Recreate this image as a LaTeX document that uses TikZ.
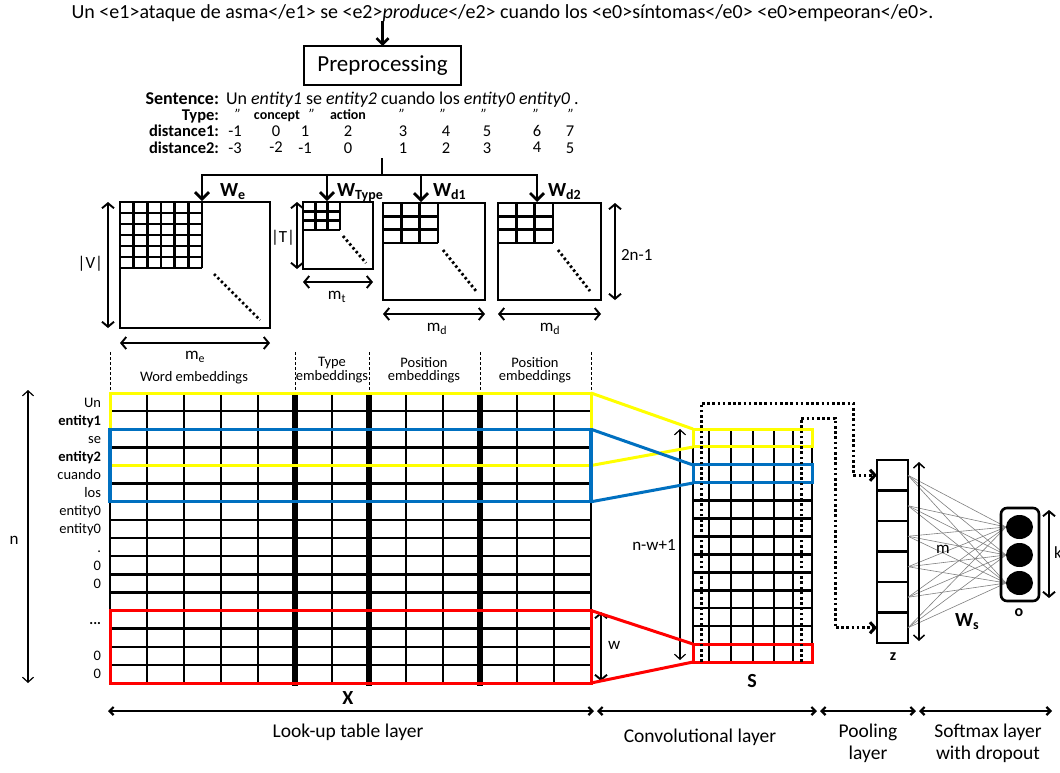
\documentclass[tikz,border=0pt]{standalone}
\usepackage{fontspec}
\setmainfont{Carlito}
\usetikzlibrary{arrows.meta,shapes.geometric}
\newcommand{\myfs}[1]{\fontsize{#1}{#1}\selectfont}
\definecolor{ylw}{RGB}{255,255,0}
\definecolor{blu}{RGB}{0,112,192}
\definecolor{rd}{RGB}{255,0,0}
\begin{document}
\begin{tikzpicture}[x=1pt,y=-1pt,
  every node/.style={inner sep=0pt, outer sep=0pt},
  mat/.style={draw, line width=2.6pt, inner sep=0pt, outer sep=0pt, anchor=north west},
  gridl/.style={line width=2.5pt},
  thickl/.style={line width=6.5pt},
  diag/.style={line width=2.8pt, dash pattern=on 2.4pt off 2.6pt},
  dimarr/.style={line width=1.9pt, {Straight Barb[length=5pt,width=12pt]}-{Straight Barb[length=5pt,width=12pt]}},
  thinarr/.style={line width=1.2pt, {Straight Barb[length=5pt,width=11pt]}-{Straight Barb[length=5pt,width=11pt]}},
  treearr/.style={line width=2.8pt, -{Straight Barb[length=7pt,width=14pt]}},
  axarr/.style={line width=2.2pt, {Straight Barb[length=4pt,width=8pt]}-{Straight Barb[length=4pt,width=8pt]}},
  dotp/.style={line width=3pt, dash pattern=on 2.6pt off 2.6pt, -{Straight Barb[length=5pt,width=11pt]}},
  sepl/.style={line width=0.9pt, dash pattern=on 3pt off 2pt},
  zcell/.style={draw, line width=2.6pt, minimum width=31pt, minimum height=30.5pt},
  lbl/.style={font=\myfs{17}},
  rowl/.style={anchor=base east, font=\myfs{14.5}},
  tlab/.style={anchor=base east, font=\myfs{16.5}\bfseries},
  tval/.style={anchor=base, font=\myfs{16.5}},
  ttyp/.style={anchor=base, font=\myfs{14}\bfseries},
  wlab/.style={anchor=base west, font=\myfs{20}\bfseries},
  emb/.style={font=\myfs{14.5}, align=center},
  axl/.style={font=\fontsize{19.5}{22}\selectfont, align=center, anchor=north}
]
\fill[white] (0,0) rectangle (1060,772);
\useasboundingbox (0,0) rectangle (1060,772);

% ---------- top sentence and preprocessing ----------
\node[anchor=base, font=\myfs{20}] (src) at (502.5,18) {Un <e1>ataque de asma</e1> se <e2>\textit{produce}</e2> cuando los <e0>síntomas</e0> <e0>empeoran</e0>.};
\node[draw, line width=1.2pt, minimum width=157pt, minimum height=39pt, font=\myfs{23}] (prep) at (382.5,65.5) {Preprocessing};
\draw[line width=2.6pt, -{Straight Barb[length=6pt,width=12pt]}] (prep.north |- src.south) -- (prep.north);

% ---------- table ----------
\node[tlab, font=\myfs{18}\bfseries] (lsent) at (219,104) {Sentence:};
\node[anchor=base west, font=\myfs{18}] (sent) at (226,104) {Un \textit{entity1} se \textit{entity2} cuando los \textit{entity0} \textit{entity0} .};
\node[tlab] (ltype) at (219,120) {Type:};
\node[tlab] (ld1) at (219,136) {distance1:};
\node[tlab] (ld2) at (219,153) {distance2:};
\foreach \x [count=\k] in {238,312,402,443,484,536,571}
  \node[anchor=north, font=\myfs{15}\itshape] (q\k) at (\x,109) {”};
\node[ttyp] (tconc) at (277,119) {concept};
\node[ttyp] (tact) at (348,119) {action};
\foreach \x/\v [count=\k] in {235/-1,276/0,305/1,348/2,403/3,446/4,487/5,537/6,570/7}
  \node[tval] (da\k) at (\x,136) {\v};
\foreach \x/\v/\dy [count=\k] in {235/-3/0,276/-2/-1,305/-1/0,348/0/0,403/1/0,446/2/0,487/3/0,537/4/-1,570/5/0}
  \node[tval] (db\k) at (\x,153+\dy) {\v};

% ---------- tree ----------
\coordinate (stem) at (382,158);
\coordinate (fork) at (382,175);
\coordinate (inWe) at (202,201);
\coordinate (inWt) at (327,201);
\coordinate (inWd1) at (421,202);
\coordinate (inWd2) at (537,202);
\draw[line width=2.8pt] (stem) -- (fork);
\draw[treearr] (fork) -| (inWe);
\draw[treearr] (fork) -| (inWt);
\draw[treearr] (fork) -| (inWd1);
\draw[treearr] (fork) -| (inWd2);

% ---------- embedding matrices ----------
\node[mat, minimum width=150pt, minimum height=126pt] (We) at (120,202) {};
\foreach \i in {1,...,6} {
  \draw[gridl] ({120+\i*82/6},202) -- ({120+\i*82/6},268);
  \draw[gridl] (120,{202+\i*11}) -- (202,{202+\i*11});
}
\draw[diag] (214,274) -- (260,320);
\node[mat, minimum width=70pt, minimum height=67pt] (Wt) at (303,202) {};
\foreach \i in {1,2,3} {
  \draw[gridl] ({303+\i*37/3},202) -- ({303+\i*37/3},230);
  \draw[gridl] (303,{202+\i*28/3}) -- (340,{202+\i*28/3});
}
\draw[diag] (343,236) -- (366,263);
\node[mat, minimum width=102pt, minimum height=97pt] (Wd1) at (383,203) {};
\node[mat, minimum width=103pt, minimum height=97pt] (Wd2) at (498,203) {};
\foreach \ox in {383,498} {
  \foreach \i in {1,2,3} {
    \draw[gridl] ({\ox+\i*55/3},203) -- ({\ox+\i*55/3},243);
    \draw[gridl] (\ox,{203+\i*40/3}) -- ({\ox+55},{203+\i*40/3});
  }
}
\draw[diag] (443,250) -- (476,291);
\draw[diag] (558,250) -- (590,291);

\node[wlab] (lWe) at (220,196) {W\textsubscript{e}};
\node[wlab] (lWt) at (337,196) {W\textsubscript{Type}};
\node[wlab] (lWd1) at (433,196) {W\textsubscript{d1}};
\node[wlab] (lWd2) at (548,196) {W\textsubscript{d2}};

\draw[dimarr] (108,202) -- (108,328);
\node[lbl, anchor=east] (lV) at (103,264) {|V|};
\draw[dimarr] (120,343) -- (270,343);
\node[lbl] (lme) at (195,357) {m\textsubscript{e}};
\draw[dimarr] (297,202) -- (297,269);
\node[lbl] (lT) at (283,238) {|T|};
\draw[dimarr] (303,282) -- (373,282);
\node[lbl] (lmt) at (337,297) {m\textsubscript{t}};
\draw[dimarr] (383,314) -- (485,314);
\node[lbl] (lmd1) at (437,329) {m\textsubscript{d}};
\draw[dimarr] (498,314) -- (601,314);
\node[lbl] (lmd2) at (550,329) {m\textsubscript{d}};
\draw[dimarr] (615,203) -- (615,300);
\node[lbl, anchor=west] (l2n) at (621,255) {2n-1};

% ---------- embedding headers ----------
\foreach \x in {110,295,369,480,591} \draw[sepl] (\x,352) -- (\x,393);
\node[emb] (hw) at (194,378) {Word embeddings};
\node[emb] (ht) at (332,370) {Type\\[-1pt]embeddings};
\node[emb] (hp1) at (424,370) {Position\\[-1pt]embeddings};
\node[emb] (hp2) at (535,370) {Position\\[-1pt]embeddings};

% ---------- X matrix ----------
\node[mat, minimum width=481pt, minimum height=290pt] (X) at (110,393) {};
\foreach \j in {1,...,15} \draw[gridl] (110,{393+18.125*\j}) -- (591,{393+18.125*\j});
\foreach \i in {1,2,3,4,6,8,9,11,12} \draw[gridl] ({110+37*\i},393) -- ({110+37*\i},683);
\foreach \i in {5,7,10} \draw[thickl] ({110+37*\i},393) -- ({110+37*\i},686);
\foreach \t [count=\k] in {Un,{\textbf{entity1}},se,{\textbf{entity2}},cuando,los,entity0,entity0,.,0,0,{},{\textbf{...}},{},0,0}
  \node[rowl] (r\k) at (101,{393+18.125*(\k-0.5)+5}) {\t};
\node[font=\myfs{20}\bfseries] (lX) at (348,698) {X};

\draw[thinarr] (28,390) -- (28,683);
\node[lbl] (ln) at (14,540) {n};
\draw[dimarr] (601,612) -- (601,681);
\node[lbl, anchor=west] (lw) at (608,645) {w};

% ---------- S matrix ----------
\node[mat, minimum width=119pt, minimum height=233pt] (S) at (693,429) {};
\foreach \j in {1,...,12} \draw[gridl] (693,{429+233/13*\j}) -- (812,{429+233/13*\j});
\foreach \x in {709,731,753,774,793} \draw[gridl] (\x,429) -- (\x,662);
\node[font=\myfs{20}\bfseries] (lS) at (752,681) {S};
\draw[thinarr] (680,429) -- (680,660);
\node[lbl] (lnw) at (654,545) {n-w+1};

% ---------- windows ----------
\draw[ylw, line width=3pt] (591,393) -- (693,429) (591,465.5) -- (693,447);
\draw[blu, line width=3pt] (591,429.25) -- (693,465) (591,501.75) -- (693,483);
\draw[rd, line width=3pt] (591,610.5) -- (693,644) (591,683) -- (693,662);
\draw[ylw, line width=3pt] (110,393) rectangle (591,465.5);
\draw[blu, line width=3.2pt] (110,429.25) rectangle (591,501.75);
\draw[rd, line width=3pt] (110,610.5) rectangle (591,683);
\draw[ylw, line width=3pt] (693,429) rectangle (812,446.9);
\draw[blu, line width=3pt] (693,464.8) rectangle (812,482.8);
\draw[rd, line width=3pt] (693,644.1) rectangle (812,662);

% ---------- pooling ----------
\foreach \k in {1,...,6} \node[zcell] (z\k) at (892.5,{460+30.5*(\k-0.5)}) {};
\node[font=\myfs{16}\bfseries] (lz) at (893,657) {z};
\draw[dotp] (701,662) |- (853,403) |- (z1.west);
\draw[dotp] (801,662) |- (835,418) |- (z6.west);

% ---------- softmax ----------
\foreach \c/\yy in {1/527,2/555,3/583} \coordinate (oc\c) at (1006,\yy);
\foreach \k in {1,...,6} \foreach \c in {1,2,3} \draw[gray, line width=0.6pt] (z\k.east) -- (oc\c);
\node[draw, line width=2.6pt, rounded corners=6pt, minimum width=38pt, minimum height=93pt] (O) at (1020,554.5) {};
\foreach \c/\yy in {1/527,2/555,3/583} \node[ellipse, fill=black, minimum width=27pt, minimum height=24pt] (o\c) at (1019.5,\yy) {};
\node[font=\myfs{16}\bfseries] (lo) at (1019,613) {o};
\draw[thinarr, line width=1.5pt] (919,462) -- (919,641);
\node[lbl] (lm) at (943,549) {m};
\draw[dimarr] (1049,510) -- (1049,598);
\node[lbl, anchor=west] (lk) at (1054,553) {k};
\node[wlab] (lWs) at (955,626) {W\textsubscript{s}};

% ---------- layer axis ----------
\coordinate (a0) at (108,711);
\coordinate (a1) at (595.5,711);
\coordinate (a2) at (818.5,711);
\coordinate (a3) at (917.5,711);
\coordinate (a4) at (1052,711);
\draw[axarr] (a0) -- ([xshift=-1.5pt]a1);
\draw[axarr] ([xshift=1.5pt]a1) -- ([xshift=-1.5pt]a2);
\draw[axarr] ([xshift=1.5pt]a2) -- ([xshift=-1.5pt]a3);
\draw[axarr] ([xshift=1.5pt]a3) -- (a4);
\node[axl] (L1) at (348,724) {Look-up table layer};
\node[axl] (L2) at (700,729) {Convolutional layer};
\node[axl] (L3) at (868,724) {Pooling\\layer};
\node[axl] (L4) at (988,724) {Softmax layer\\with dropout};
\end{tikzpicture}
\end{document}
